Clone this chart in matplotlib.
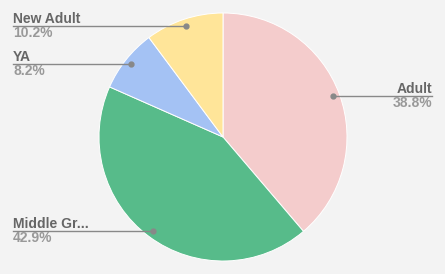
import numpy as np
import matplotlib.pyplot as plt

labels = ["Adult", "Middle Grade", "YA", "New Adult"]
short_labels = ["Adult", "Middle Gr...", "YA", "New Adult"]
values = [38.8, 42.9, 8.2, 10.2]
colors = ["#f4cccc", "#57bb8a", "#a4c2f4", "#ffe599"]

W, H = 445, 274
CENTER = (223, 137)
RADIUS = 124

plt.rcParams['font.family'] = ['Liberation Sans', 'DejaVu Sans']

fig = plt.figure(figsize=(W / 100, H / 100), dpi=100)
fig.patch.set_facecolor("#f3f3f3")
ax = fig.add_axes([0, 0, 1, 1])
ax.set_facecolor("#f3f3f3")

# Pie, clockwise from the top
wedges, _ = ax.pie(
    values,
    colors=colors,
    startangle=90,
    counterclock=False,
    center=CENTER,
    radius=RADIUS,
    frame=True,
    wedgeprops=dict(edgecolor="white", linewidth=0.7),
)

# Leader lines and labels
for w, name, val in zip(wedges, short_labels, values):
    mid = np.deg2rad((w.theta1 + w.theta2) / 2)
    px = CENTER[0] + 0.945 * RADIUS * np.cos(mid)
    py = CENTER[1] + 0.945 * RADIUS * np.sin(mid)
    if np.cos(mid) >= 0:
        tx, ha = 432, "right"
    else:
        tx, ha = 13, "left"
    ax.plot([px, tx], [py, py], color="#888888", lw=1, zorder=3)
    ax.plot(px, py, "o", color="#888888", ms=3.5, zorder=4)
    ax.text(tx, py + 3, name, ha=ha, va="baseline", fontsize=10,
            fontweight="bold", color="#666666")
    ax.text(tx, py - 11, f"{val:.1f}%", ha=ha, va="baseline", fontsize=10,
            fontweight="bold", color="#999999")

ax.set_xlim(0, W)
ax.set_ylim(0, H)
ax.axis("off")

fig.savefig("out.png", dpi=100, facecolor=fig.get_facecolor())
